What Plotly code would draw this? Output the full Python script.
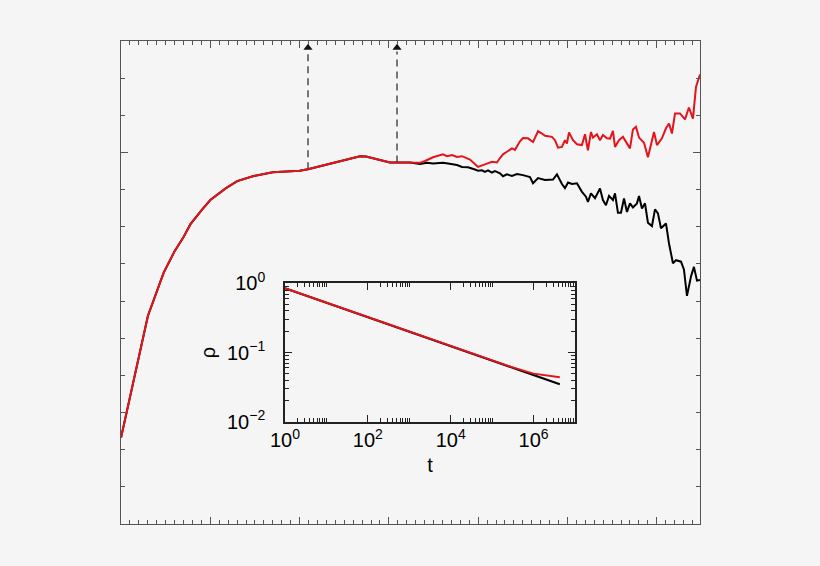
import numpy as np
import plotly.graph_objects as go

# ---- main panel data (x = log10 t, y = scaled quantity) ----
shared_x = [0, 0.301, 0.477, 0.602, 0.699, 0.778, 0.903, 1.0, 1.176, 1.301, 1.477, 1.699, 2.0,
            2.094, 2.228, 2.34, 2.475, 2.60, 2.676, 2.744, 2.844, 2.934, 3.012, 3.091]
shared_y = [0.232, 0.560, 0.676, 0.735, 0.772, 0.807, 0.845, 0.872, 0.904, 0.923, 0.936, 0.947, 0.951,
            0.955, 0.963, 0.970, 0.979, 0.987, 0.990, 0.989, 0.983, 0.977, 0.973, 0.973]

red_x = [3.236, 3.348, 3.404, 3.494, 3.606, 3.651, 3.707, 3.763, 3.819, 3.908, 3.998, 4.043, 4.098,
         4.154, 4.210, 4.244, 4.278, 4.322, 4.378, 4.412, 4.468, 4.502, 4.558, 4.614, 4.670, 4.714,
         4.748, 4.826, 4.860, 4.894, 4.938, 4.972, 4.994, 5.017, 5.062, 5.106, 5.162, 5.196, 5.229,
         5.263, 5.285, 5.330, 5.364, 5.397, 5.442, 5.476, 5.509, 5.532, 5.577, 5.621, 5.666, 5.700,
         5.733, 5.767, 5.801, 5.857, 5.901, 5.969, 6.002, 6.058, 6.103, 6.137, 6.170, 6.204, 6.260,
         6.316, 6.360, 6.405, 6.439, 6.484]
red_y = [0.973, 0.972, 0.977, 0.987, 0.995, 0.990, 0.993, 0.988, 0.990, 0.981, 0.961, 0.966, 0.970,
         0.975, 0.973, 0.985, 0.995, 1.002, 1.011, 1.007, 1.030, 1.039, 1.038, 1.028, 1.057, 1.051,
         1.045, 1.042, 1.033, 1.013, 1.015, 1.033, 1.024, 1.054, 1.033, 1.022, 1.020, 1.049, 1.006,
         1.055, 1.040, 1.049, 1.033, 1.047, 1.038, 1.037, 1.058, 1.015, 1.033, 1.042, 1.024, 1.011,
         1.062, 1.069, 1.040, 1.026, 0.987, 1.055, 1.020, 1.038, 1.065, 1.078, 1.051, 1.105, 1.105,
         1.089, 1.121, 1.091, 1.176, 1.210]

black_x = [3.236, 3.348, 3.427, 3.494, 3.606, 3.662, 3.763, 3.819, 3.886, 3.964, 3.998, 4.043, 4.076,
           4.110, 4.154, 4.188, 4.244, 4.278, 4.322, 4.378, 4.434, 4.502, 4.580, 4.614, 4.670, 4.748,
           4.804, 4.838, 4.882, 4.938, 4.972, 5.006, 5.050, 5.106, 5.162, 5.207, 5.229, 5.263, 5.308,
           5.364, 5.397, 5.431, 5.465, 5.509, 5.532, 5.565, 5.599, 5.633, 5.666, 5.700, 5.733, 5.778,
           5.801, 5.834, 5.868, 5.901, 5.946, 5.980, 6.013, 6.047, 6.103, 6.137, 6.181, 6.215, 6.271,
           6.304, 6.338, 6.383, 6.416, 6.450, 6.484]
black_y = [0.973, 0.969, 0.972, 0.970, 0.972, 0.970, 0.966, 0.961, 0.960, 0.954, 0.951, 0.952, 0.948,
           0.952, 0.946, 0.950, 0.944, 0.936, 0.941, 0.937, 0.942, 0.939, 0.934, 0.917, 0.931, 0.926,
           0.927, 0.927, 0.941, 0.915, 0.904, 0.919, 0.915, 0.917, 0.894, 0.881, 0.867, 0.890, 0.877,
           0.903, 0.872, 0.858, 0.883, 0.872, 0.890, 0.838, 0.838, 0.876, 0.840, 0.863, 0.852, 0.863,
           0.883, 0.849, 0.863, 0.811, 0.802, 0.847, 0.836, 0.796, 0.809, 0.755, 0.702, 0.710, 0.706,
           0.685, 0.614, 0.666, 0.692, 0.655, 0.657]

arrow_x = [2.094, 3.091]
arrow_top = 1.282

# ---- inset data ----
inset_t = [1, 10, 100, 1e3, 1e4, 1e5, 3e5, 1e6, 2e6, 4.3e6]
inset_black = [0.847, 0.524, 0.324, 0.2, 0.124, 0.0767, 0.061, 0.0468, 0.0405, 0.0348]
inset_red = [0.847, 0.524, 0.324, 0.2, 0.124, 0.0767, 0.0615, 0.0495, 0.0465, 0.0438]

inset_xticks = [1, 1e2, 1e4, 1e6]
inset_xtext = ["10<sup>0</sup>", "10<sup>2</sup>", "10<sup>4</sup>", "10<sup>6</sup>"]
inset_yticks = [1e-2, 1e-1, 1]
inset_ytext = ["10<sup>\u22122</sup>", "10<sup>\u22121</sup>", "10<sup>0</sup>"]

BG = "#f5f5f5"
RED = "#e3141b"
FONT = "Liberation Sans, Arial, sans-serif"

fig = go.Figure()

bx = shared_x + black_x
by = shared_y + black_y
rx = shared_x + red_x
ry = shared_y + red_y

# arrows (dashed line + arrow head)
for ax_ in arrow_x:
    base = float(np.interp(ax_, rx, ry))
    fig.add_trace(go.Scatter(x=[ax_, ax_], y=[base, arrow_top - 0.01], mode="lines",
                             line=dict(color="#333333", width=1.3, dash="7px,5px"),
                             showlegend=False, hoverinfo="skip"))
    fig.add_trace(go.Scatter(x=[ax_], y=[arrow_top], mode="markers",
                             marker=dict(symbol="triangle-up", size=8, color="#111111"),
                             showlegend=False, hoverinfo="skip"))

fig.add_trace(go.Scatter(x=bx, y=by, mode="lines", line=dict(color="black", width=2),
                         showlegend=False))
fig.add_trace(go.Scatter(x=rx, y=ry, mode="lines", line=dict(color=RED, width=2),
                         showlegend=False))

# inset
fig.add_trace(go.Scatter(x=inset_t, y=inset_black, mode="lines", line=dict(color="black", width=2),
                         xaxis="x2", yaxis="y2", showlegend=False))
fig.add_trace(go.Scatter(x=inset_t, y=inset_red, mode="lines", line=dict(color=RED, width=2),
                         xaxis="x2", yaxis="y2", showlegend=False))

axis_main = dict(showgrid=False, zeroline=False, showticklabels=False, ticks="inside",
                 ticklen=7, tickwidth=1, tickcolor="#555", showline=True, linecolor="#555",
                 linewidth=1, mirror="allticks")

x_minor = [k * 10.0 ** e for e in (0, 2, 4, 6) for k in range(2, 11)]
y_minor = [k * 10.0 ** e for e in (-2, -1) for k in range(2, 10)]

axis_inset = dict(showgrid=False, zeroline=False, ticks="inside", ticklen=7, tickwidth=1,
                  tickcolor="#222", showline=True, linecolor="#222", linewidth=1.5,
                  mirror="allticks", tickfont=dict(size=20, color="black", family=FONT))

fig.update_layout(
    width=820, height=566,
    paper_bgcolor=BG, plot_bgcolor=BG,
    margin=dict(l=121, r=120, t=41, b=42),
    font=dict(family=FONT, color="black"),
    xaxis=dict(range=[0, 6.484], dtick=1, tick0=0,
               minor=dict(dtick=0.1, ticklen=4, tickcolor="#555", ticks="inside"), **axis_main),
    yaxis=dict(range=[0, 1.3], dtick=1, tick0=0,
               minor=dict(dtick=0.1, ticklen=4, tickcolor="#555", ticks="inside"), **axis_main),
    xaxis2=dict(type="log", range=[0, 7], domain=[0.2832, 0.7841], anchor="y2",
                tickmode="array", tickvals=inset_xticks, ticktext=inset_xtext,
                minor=dict(tickmode="array", tickvals=x_minor, ticklen=4, ticks="inside", tickcolor="#222"),
                title=dict(text="t", font=dict(size=20, family=FONT), standoff=8),
                **axis_inset),
    yaxis2=dict(type="log", range=[-2, 0], domain=[0.2118, 0.4983], anchor="x2",
                tickmode="array", tickvals=inset_yticks, ticktext=inset_ytext,
                minor=dict(tickmode="array", tickvals=y_minor, ticklen=4, ticks="inside", tickcolor="#222"),
                title=dict(text="\u03c1", font=dict(size=20, family=FONT), standoff=6),
                ticklabelstandoff=14,
                **axis_inset),
)

fig.write_html("out.html", config={"displayModeBar": False})

# remove the default page margin so the figure sits at the window origin
with open("out.html", encoding="utf-8") as f:
    html = f.read()
html = html.replace("<head>", "<head><style>html,body{margin:0;padding:0;background:#f5f5f5;}</style>", 1)
with open("out.html", "w", encoding="utf-8") as f:
    f.write(html)
